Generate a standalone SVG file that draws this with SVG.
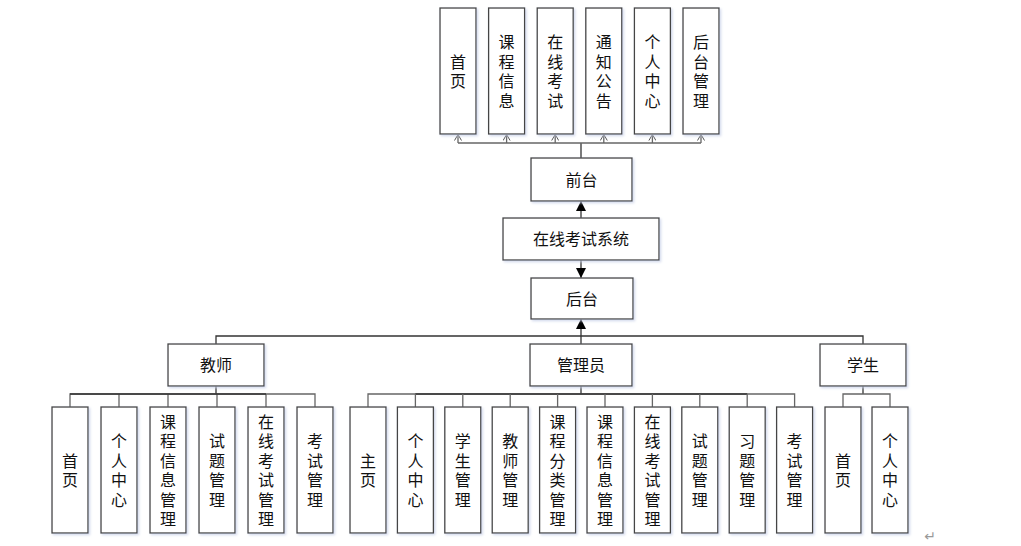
<svg xmlns="http://www.w3.org/2000/svg" width="1021" height="546" viewBox="0 0 1021 546">
<style>
.box{fill:#fff;stroke:#444;stroke-width:1.3;filter:url(#sh)}
.t{font-family:"Noto Sans CJK SC","Noto Sans CJK JP",sans-serif;font-size:16px;fill:#111;text-anchor:middle;dominant-baseline:central}
.ln{fill:none;stroke:#333;stroke-width:1.3}
.lg{fill:none;stroke:#666;stroke-width:1.3}
</style>
<defs>
<filter id="sh" x="-20%" y="-20%" width="140%" height="140%"><feDropShadow dx="1.5" dy="1.5" stdDeviation="1" flood-color="#c8d0e8" flood-opacity="0.8"/></filter>
<marker id="fa" viewBox="0 0 10 10" refX="10" refY="5" markerWidth="10" markerHeight="10" markerUnits="userSpaceOnUse" orient="auto"><path d="M0,0 L10,5 L0,10 z" fill="#000"/></marker>
<marker id="oa" viewBox="0 0 6 8" refX="6" refY="4" markerWidth="6" markerHeight="8" markerUnits="userSpaceOnUse" orient="auto"><path d="M0,0.5 L6,4 L0,7.5" fill="none" stroke="#555" stroke-width="1"/></marker>
</defs>
<rect width="1021" height="546" fill="#fff"/>
<g id="connectors">
<path class="ln" d="M581,158 V143"/>
<path class="lg" d="M458,143 H701"/>
<path class="lg" d="M458,143 V134.5" marker-end="url(#oa)"/>
<path class="lg" d="M506.6,143 V134.5" marker-end="url(#oa)"/>
<path class="lg" d="M555.2,143 V134.5" marker-end="url(#oa)"/>
<path class="lg" d="M603.8,143 V134.5" marker-end="url(#oa)"/>
<path class="lg" d="M652.4,143 V134.5" marker-end="url(#oa)"/>
<path class="lg" d="M701,143 V134.5" marker-end="url(#oa)"/>
<path class="ln" d="M581,218 V201" marker-end="url(#fa)"/>
<path class="ln" d="M581,260 V278" marker-end="url(#fa)"/>
<path class="ln" d="M581,344 V319" marker-end="url(#fa)"/>
<path class="ln" d="M216,344 V336 H863 V344"/>
<path class="ln" d="M216,386 V394"/>
<path class="lg" d="M70,407 V394 H315 V407"/>
<path class="lg" d="M119,394 V407 M168,394 V407 M217,394 V407 M266,394 V407"/>
<path class="ln" d="M70,394 H266"/>
<path class="ln" d="M581,386 V394"/>
<path class="lg" d="M368,407 V394 H794.6 V407"/>
<path class="ln" d="M415.4,394 H747.2"/>
<path class="lg" d="M415.4,394 V407 M462.8,394 V407 M510.2,394 V407 M557.6,394 V407 M605,394 V407 M652.4,394 V407 M699.8,394 V407 M747.2,394 V407"/>
<path class="ln" d="M863,386 V394"/>
<path class="lg" d="M843,407 V394 H890 V407"/>
</g>
<g id="n_home"><rect class="box" x="440" y="8" width="36" height="126"/><text class="t"><tspan x="458" y="60.5">首</tspan><tspan x="458" y="80">页</tspan></text></g>
<g id="n_course"><rect class="box" x="488.6" y="8" width="36" height="126"/><text class="t"><tspan x="506.6" y="41">课</tspan><tspan x="506.6" y="60.5">程</tspan><tspan x="506.6" y="80">信</tspan><tspan x="506.6" y="99.5">息</tspan></text></g>
<g id="n_exam"><rect class="box" x="537.2" y="8" width="36" height="126"/><text class="t"><tspan x="555.2" y="41">在</tspan><tspan x="555.2" y="60.5">线</tspan><tspan x="555.2" y="80">考</tspan><tspan x="555.2" y="99.5">试</tspan></text></g>
<g id="n_notice"><rect class="box" x="585.8" y="8" width="36" height="126"/><text class="t"><tspan x="603.8" y="41">通</tspan><tspan x="603.8" y="60.5">知</tspan><tspan x="603.8" y="80">公</tspan><tspan x="603.8" y="99.5">告</tspan></text></g>
<g id="n_center"><rect class="box" x="634.4" y="8" width="36" height="126"/><text class="t"><tspan x="652.4" y="41">个</tspan><tspan x="652.4" y="60.5">人</tspan><tspan x="652.4" y="80">中</tspan><tspan x="652.4" y="99.5">心</tspan></text></g>
<g id="n_admin_entry"><rect class="box" x="683" y="8" width="36" height="126"/><text class="t"><tspan x="701" y="41">后</tspan><tspan x="701" y="60.5">台</tspan><tspan x="701" y="80">管</tspan><tspan x="701" y="99.5">理</tspan></text></g>
<g id="n_front"><rect class="box" x="531" y="158" width="101" height="43"/><text class="t" x="581.5" y="179">前台</text></g>
<g id="n_system"><rect class="box" x="503" y="218" width="156" height="42"/><text class="t" x="581" y="238">在线考试系统</text></g>
<g id="n_back"><rect class="box" x="531" y="278" width="102" height="41"/><text class="t" x="582" y="297.5">后台</text></g>
<g id="n_teacher"><rect class="box" x="168" y="344" width="96" height="42"/><text class="t" x="216" y="364">教师</text></g>
<g id="n_manager"><rect class="box" x="530" y="344" width="102" height="42"/><text class="t" x="581" y="364">管理员</text></g>
<g id="n_student"><rect class="box" x="820" y="344" width="86" height="42"/><text class="t" x="863" y="364">学生</text></g>
<g id="t1"><rect class="box" x="52" y="407" width="36" height="126"/><text class="t"><tspan x="70" y="459.5">首</tspan><tspan x="70" y="479">页</tspan></text></g>
<g id="t2"><rect class="box" x="101" y="407" width="36" height="126"/><text class="t"><tspan x="119" y="440">个</tspan><tspan x="119" y="459.5">人</tspan><tspan x="119" y="479">中</tspan><tspan x="119" y="498.5">心</tspan></text></g>
<g id="t3"><rect class="box" x="150" y="407" width="36" height="126"/><text class="t"><tspan x="168" y="420.5">课</tspan><tspan x="168" y="440">程</tspan><tspan x="168" y="459.5">信</tspan><tspan x="168" y="479">息</tspan><tspan x="168" y="498.5">管</tspan><tspan x="168" y="518">理</tspan></text></g>
<g id="t4"><rect class="box" x="199" y="407" width="36" height="126"/><text class="t"><tspan x="217" y="440">试</tspan><tspan x="217" y="459.5">题</tspan><tspan x="217" y="479">管</tspan><tspan x="217" y="498.5">理</tspan></text></g>
<g id="t5"><rect class="box" x="248" y="407" width="36" height="126"/><text class="t"><tspan x="266" y="420.5">在</tspan><tspan x="266" y="440">线</tspan><tspan x="266" y="459.5">考</tspan><tspan x="266" y="479">试</tspan><tspan x="266" y="498.5">管</tspan><tspan x="266" y="518">理</tspan></text></g>
<g id="t6"><rect class="box" x="297" y="407" width="36" height="126"/><text class="t"><tspan x="315" y="440">考</tspan><tspan x="315" y="459.5">试</tspan><tspan x="315" y="479">管</tspan><tspan x="315" y="498.5">理</tspan></text></g>
<g id="a1"><rect class="box" x="350" y="407" width="36" height="126"/><text class="t"><tspan x="368" y="459.5">主</tspan><tspan x="368" y="479">页</tspan></text></g>
<g id="a2"><rect class="box" x="397.4" y="407" width="36" height="126"/><text class="t"><tspan x="415.4" y="440">个</tspan><tspan x="415.4" y="459.5">人</tspan><tspan x="415.4" y="479">中</tspan><tspan x="415.4" y="498.5">心</tspan></text></g>
<g id="a3"><rect class="box" x="444.8" y="407" width="36" height="126"/><text class="t"><tspan x="462.8" y="440">学</tspan><tspan x="462.8" y="459.5">生</tspan><tspan x="462.8" y="479">管</tspan><tspan x="462.8" y="498.5">理</tspan></text></g>
<g id="a4"><rect class="box" x="492.2" y="407" width="36" height="126"/><text class="t"><tspan x="510.2" y="440">教</tspan><tspan x="510.2" y="459.5">师</tspan><tspan x="510.2" y="479">管</tspan><tspan x="510.2" y="498.5">理</tspan></text></g>
<g id="a5"><rect class="box" x="539.6" y="407" width="36" height="126"/><text class="t"><tspan x="557.6" y="420.5">课</tspan><tspan x="557.6" y="440">程</tspan><tspan x="557.6" y="459.5">分</tspan><tspan x="557.6" y="479">类</tspan><tspan x="557.6" y="498.5">管</tspan><tspan x="557.6" y="518">理</tspan></text></g>
<g id="a6"><rect class="box" x="587" y="407" width="36" height="126"/><text class="t"><tspan x="605" y="420.5">课</tspan><tspan x="605" y="440">程</tspan><tspan x="605" y="459.5">信</tspan><tspan x="605" y="479">息</tspan><tspan x="605" y="498.5">管</tspan><tspan x="605" y="518">理</tspan></text></g>
<g id="a7"><rect class="box" x="634.4" y="407" width="36" height="126"/><text class="t"><tspan x="652.4" y="420.5">在</tspan><tspan x="652.4" y="440">线</tspan><tspan x="652.4" y="459.5">考</tspan><tspan x="652.4" y="479">试</tspan><tspan x="652.4" y="498.5">管</tspan><tspan x="652.4" y="518">理</tspan></text></g>
<g id="a8"><rect class="box" x="681.8" y="407" width="36" height="126"/><text class="t"><tspan x="699.8" y="440">试</tspan><tspan x="699.8" y="459.5">题</tspan><tspan x="699.8" y="479">管</tspan><tspan x="699.8" y="498.5">理</tspan></text></g>
<g id="a9"><rect class="box" x="729.2" y="407" width="36" height="126"/><text class="t"><tspan x="747.2" y="440">习</tspan><tspan x="747.2" y="459.5">题</tspan><tspan x="747.2" y="479">管</tspan><tspan x="747.2" y="498.5">理</tspan></text></g>
<g id="a10"><rect class="box" x="776.6" y="407" width="36" height="126"/><text class="t"><tspan x="794.6" y="440">考</tspan><tspan x="794.6" y="459.5">试</tspan><tspan x="794.6" y="479">管</tspan><tspan x="794.6" y="498.5">理</tspan></text></g>
<g id="s1"><rect class="box" x="825" y="407" width="36" height="126"/><text class="t"><tspan x="843" y="459.5">首</tspan><tspan x="843" y="479">页</tspan></text></g>
<g id="s2"><rect class="box" x="872" y="407" width="36" height="126"/><text class="t"><tspan x="890" y="440">个</tspan><tspan x="890" y="459.5">人</tspan><tspan x="890" y="479">中</tspan><tspan x="890" y="498.5">心</tspan></text></g>
<text x="930" y="536" font-family="DejaVu Sans, sans-serif" font-size="14" fill="#999" text-anchor="middle" dominant-baseline="central">↵</text>
</svg>
